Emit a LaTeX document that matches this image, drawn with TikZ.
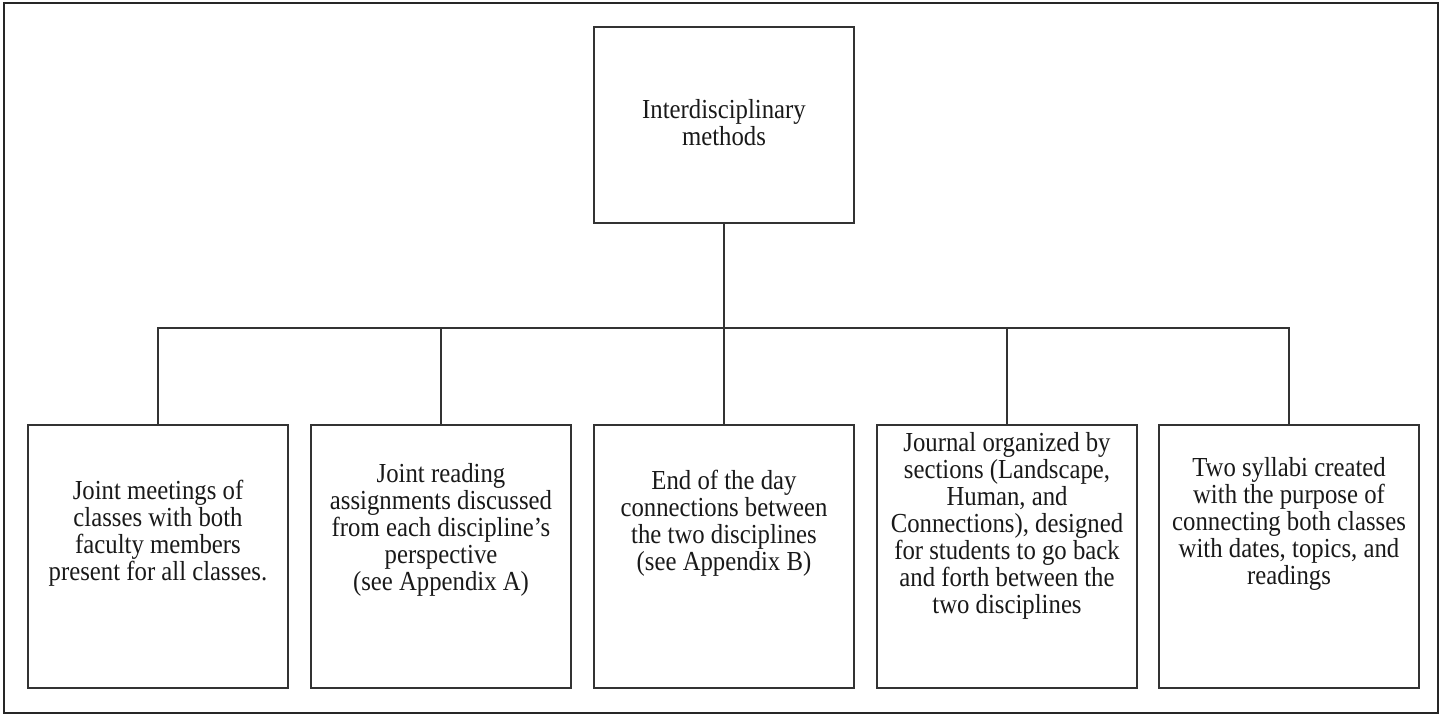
\documentclass[tikz,border=0pt]{standalone}
\usepackage{fontspec}
\setmainfont{Liberation Serif}[FakeStretch=0.9]
\begin{document}
\begin{tikzpicture}[x=1pt,y=-1pt,
  box/.style={draw=black!80, line width=1.4pt, minimum width=260pt, inner sep=0pt},
  low/.style={box, minimum height=263pt},
  txt/.style={align=center, text=black!90, font=\fontsize{27.5pt}{27pt}\selectfont, inner sep=0pt},
  link/.style={draw=black!80, line width=1.4pt}]
\useasboundingbox (0,0) rectangle (1442,716);
\draw[black!85, line width=2pt] (4,3) rectangle (1438,713);
\node[box, minimum height=196pt] (top) at (724,125) {};
\node[txt] (ttop) at ([yshift=2pt]top.center) {Interdisciplinary\\methods};
\node[low] (b1) at (158,556.5) {};
\node[low] (b2) at (441,556.5) {};
\node[low] (b3) at (724,556.5) {};
\node[low] (b4) at (1007,556.5) {};
\node[low] (b5) at (1289,556.5) {};
\node[txt] (t1) at ([yshift=23pt]b1.center) {Joint meetings of\\classes with both\\faculty members\\present for all classes.};
\node[txt] (t2) at ([yshift=27pt]b2.center) {Joint reading\\assignments discussed\\from each discipline’s\\perspective\\(see Appendix A)};
\node[txt] (t3) at ([yshift=33pt]b3.center) {End of the day\\connections between\\the two disciplines\\(see Appendix B)};
\node[txt] (t4) at ([yshift=31pt]b4.center) {Journal organized by\\sections (Landscape,\\Human, and\\Connections), designed\\for students to go back\\and forth between the\\two disciplines};
\node[txt] (t5) at ([yshift=33pt]b5.center) {Two syllabi created\\with the purpose of\\connecting both classes\\with dates, topics, and\\readings};
\coordinate (bus) at (724,328);
\draw[link] (top.south) -- (bus);
\draw[link] (b1.north) -- (b1.north |- bus) -- (b5.north |- bus) -- (b5.north);
\draw[link] (b2.north) -- (b2.north |- bus);
\draw[link] (b3.north) -- (b3.north |- bus);
\draw[link] (b4.north) -- (b4.north |- bus);
\end{tikzpicture}
\end{document}
